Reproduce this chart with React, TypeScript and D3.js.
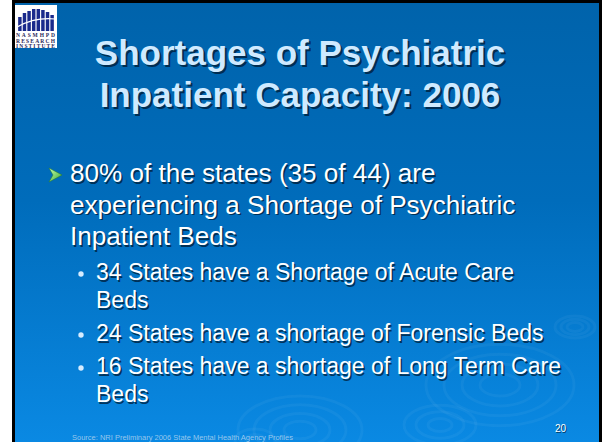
import React, { useEffect, useRef } from 'react';
import * as d3 from 'd3';

// slide content
const titleLines = ['Shortages of Psychiatric', 'Inpatient Capacity: 2006'];
const mainLines = ['80% of the states (35 of 44) are', 'experiencing a Shortage of Psychiatric', 'Inpatient Beds'];
const subItems = [
  ['34 States have a Shortage of Acute Care', 'Beds'],
  ['24 States have a shortage of Forensic Beds'],
  ['16 States have a shortage of Long Term Care', 'Beds'],
];
const sourceText = 'Source: NRI Preliminary 2006 State Mental Health Agency Profiles';
const pageNumber = '20';

// decorative ripples: centre x, centre y, ring radii
const rippleX = [575, 500, 440, 300, 255];
const rippleY = [327, 385, 425, 430, 440];
const rippleR = [[8, 14, 20], [20, 38, 56, 74], [12, 24, 36], [16, 30, 46, 62], [10, 20]];
const logoBars = [14, 18, 20, 22, 22, 21, 19, 16];

const W = 602;
const H = 442;
const FONT = '"Liberation Sans", Arial, sans-serif';

const App = () => {
  const svgRef = useRef<SVGSVGElement>(null);

  useEffect(() => {
    const svg = d3.select(svgRef.current);
    svg.selectAll('*').remove();

    const defs = svg.append('defs');
    const bg = defs.append('linearGradient').attr('id', 'bg').attr('x1', 0).attr('y1', 0).attr('x2', 0).attr('y2', 1);
    bg.append('stop').attr('offset', '0%').attr('stop-color', '#0063ab');
    bg.append('stop').attr('offset', '45%').attr('stop-color', '#006cbb');
    bg.append('stop').attr('offset', '100%').attr('stop-color', '#0a89e3');

    const arrowG = defs.append('linearGradient').attr('id', 'arrow').attr('x1', 0).attr('y1', 0).attr('x2', 1).attr('y2', 1);
    arrowG.append('stop').attr('offset', '0%').attr('stop-color', '#c8ffb0');
    arrowG.append('stop').attr('offset', '100%').attr('stop-color', '#3aa830');

    // page frame
    svg.append('rect').attr('width', W).attr('height', H).attr('fill', '#ffffff');
    svg.append('rect').attr('x', 12).attr('y', 0).attr('width', W - 12).attr('height', H).attr('fill', '#000');
    svg.append('rect').attr('x', 15).attr('y', 3).attr('width', W - 18).attr('height', H - 3).attr('fill', 'url(#bg)');

    // ripples
    const rip = svg.append('g').attr('fill', 'none').attr('stroke', '#ffffff').attr('stroke-opacity', 0.045);
    rippleX.forEach((cx, i) => {
      rip.selectAll(null)
        .data(rippleR[i])
        .enter()
        .append('ellipse')
        .attr('cx', cx)
        .attr('cy', rippleY[i])
        .attr('rx', d => d)
        .attr('ry', d => d * 0.55)
        .attr('stroke-width', 3);
    });

    // logo
    const logo = svg.append('g').attr('transform', 'translate(15,5)');
    logo.append('rect').attr('width', 42).attr('height', 43).attr('fill', '#fff');
    const bx = d3.scaleBand<number>().domain(d3.range(logoBars.length)).range([2, 40]).padding(0.25);
    logo.selectAll('rect.bar')
      .data(logoBars)
      .enter()
      .append('rect')
      .attr('class', 'bar')
      .attr('x', (d, i) => bx(i) as number)
      .attr('y', d => 26 - d)
      .attr('width', bx.bandwidth())
      .attr('height', d => d)
      .attr('fill', '#1a2a8c');
    logo.append('path').attr('d', 'M2,22 Q20,12 40,14').attr('stroke', '#fff').attr('stroke-width', 1.2).attr('fill', 'none');
    ['NASMHPD', 'RESEARCH', 'INSTITUTE'].forEach((t, i) => {
      logo.append('text').attr('x', 1).attr('y', 32 + i * 5.5).attr('font-family', 'serif').attr('font-size', 5.5)
        .attr('font-weight', 'bold').attr('fill', '#2a2a5a').attr('textLength', 39).text(t);
    });

    // text with a drop shadow copy behind it
    const shadowText = (g, x, y, text, size, fill, weight, anchor, off) => {
      g.append('text').attr('x', x + off).attr('y', y + off).attr('font-family', FONT).attr('font-size', size)
        .attr('font-weight', weight).attr('text-anchor', anchor).attr('fill', '#001a33').attr('fill-opacity', 0.75).text(text);
      g.append('text').attr('x', x).attr('y', y).attr('font-family', FONT).attr('font-size', size)
        .attr('font-weight', weight).attr('text-anchor', anchor).attr('fill', fill).text(text);
    };

    const g = svg.append('g');

    // title
    const ty = d3.scaleLinear().domain([0, 1]).range([65, 107]);
    titleLines.forEach((t, i) => shadowText(g, 300, ty(i), t, 35, '#cfeaff', 'bold', 'middle', 2));

    // main bullet
    g.append('path')
      .attr('d', 'M49,168 L62,175 L49,182 L53,175 Z')
      .attr('fill', 'url(#arrow)')
      .attr('stroke', '#2a7a20')
      .attr('stroke-width', 0.5);
    const my = d3.scaleLinear().domain([0, 1]).range([182, 213.5]);
    mainLines.forEach((t, i) => shadowText(g, 70, my(i), t, 26.1, '#ffffff', 'normal', 'start', 1.5));

    // sub bullets
    let y = 280;
    subItems.forEach(lines => {
      g.append('circle').attr('cx', 81).attr('cy', y - 6).attr('r', 2.7).attr('fill', '#d6ecff');
      lines.forEach((t, j) => shadowText(g, 96, y + j * 28, t, 23, '#ffffff', 'normal', 'start', 1.5));
      y += (lines.length - 1) * 28 + 33;
    });

    // footer
    g.append('text').attr('x', 72).attr('y', 440).attr('font-family', FONT).attr('font-size', 7.5)
      .attr('fill', '#bcd8f0').attr('fill-opacity', 0.8).text(sourceText);
    shadowText(g, 555, 432, pageNumber, 10, '#ffffff', 'normal', 'start', 1);
  }, []);

  return (
    <svg ref={svgRef} width={W} height={H} style={{ position: 'absolute', left: 0, top: 0 }}></svg>
  );
};

export default App;
